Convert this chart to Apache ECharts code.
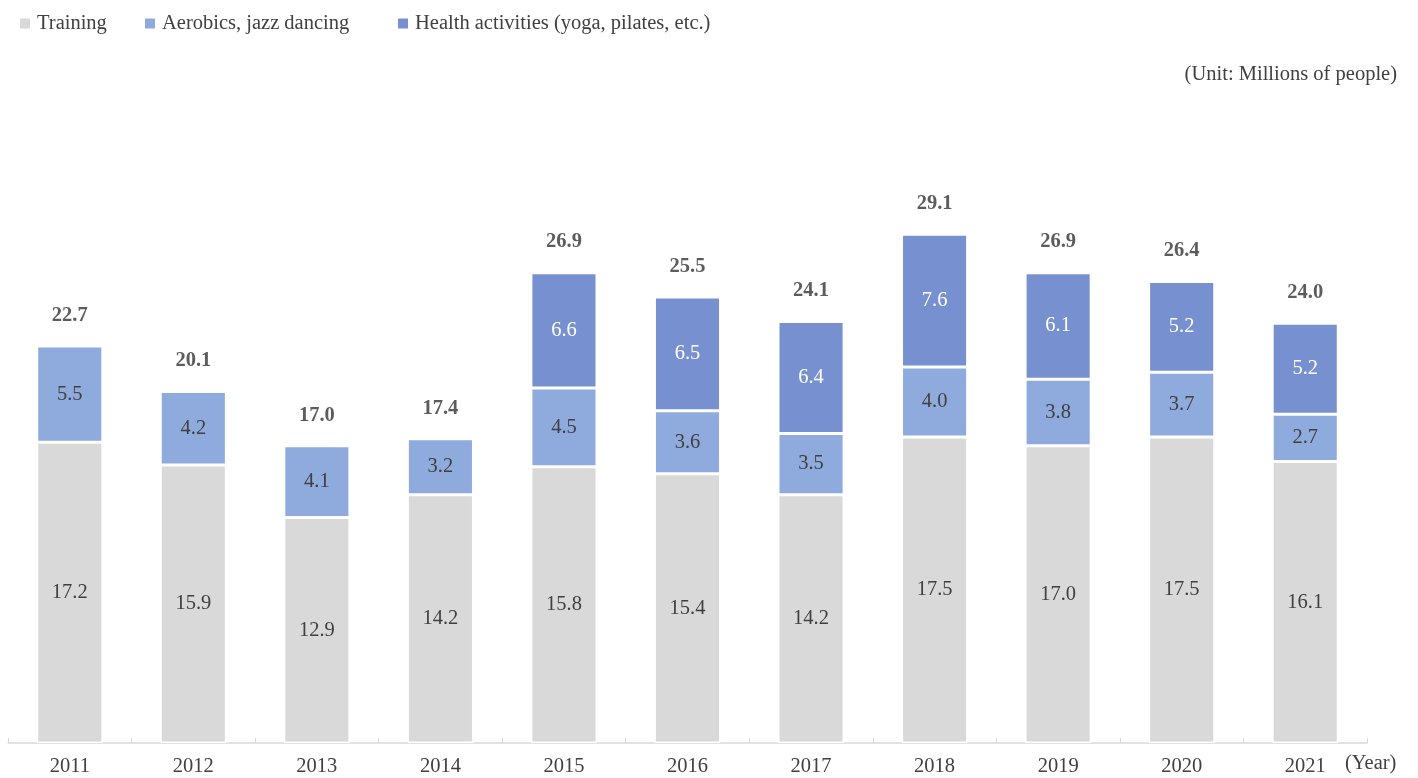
<!DOCTYPE html>
<html>
<head>
<meta charset="utf-8">
<script src="https://cdn.jsdelivr.net/npm/echarts@6/dist/echarts.min.js"></script>
<style>html,body{margin:0;padding:0;background:#fff;}#c{width:1418px;height:778px;}</style>
</head>
<body>
<div id="c"></div>
<script>
const years = ['2011','2012','2013','2014','2015','2016','2017','2018','2019','2020','2021'];
const training = [17.2,15.9,12.9,14.2,15.8,15.4,14.2,17.5,17.0,17.5,16.1];
const aerobics = [5.5,4.2,4.1,3.2,4.5,3.6,3.5,4.0,3.8,3.7,2.7];
const health = [null,null,null,null,6.6,6.5,6.4,7.6,6.1,5.2,5.2];
const totals = [22.7,20.1,17.0,17.4,26.9,25.5,24.1,29.1,26.9,26.4,24.0];
const seriesNames = ['Training', 'Aerobics, jazz dancing', 'Health activities (yoga, pilates, etc.)'];

const FONT = '"Liberation Serif","Times New Roman",serif';
const TXT = '#404040';
const FS = 20.5;
const chart = echarts.init(document.getElementById('c'));
const fmt = p => (p.value == null ? '' : Number(p.value).toFixed(1));
const segLabel = (color) => ({show: true, position: 'inside', color: color, fontFamily: FONT, fontSize: FS, formatter: fmt});
const itemStyle = (c) => ({color: c, borderColor: '#fff', borderWidth: 1.5});
const legendLefts = [15, 140, 393];

chart.setOption({
  animation: false,
  textStyle: {fontFamily: FONT},
  legend: seriesNames.map((n, i) => ({
    left: legendLefts[i], top: 8, itemWidth: 10, itemHeight: 10, icon: 'rect',
    data: [n],
    itemStyle: {borderWidth: 0},
    textStyle: {fontFamily: FONT, fontSize: FS, color: TXT, padding: [0, 0, 0, 2]}
  })),
  title: {
    text: '(Unit: Millions of people)', right: 16, top: 59,
    textStyle: {fontFamily: FONT, fontSize: FS, color: TXT, fontWeight: 'normal'}
  },
  graphic: [{
    type: 'text', left: 1345, top: 753,
    style: {text: '(Year)', fontFamily: FONT, fontSize: FS, fill: TXT}
  }],
  grid: {left: 8, right: 51, top: 131, bottom: 35},
  xAxis: {
    type: 'category', data: years,
    axisLine: {lineStyle: {color: '#d9d9d9', width: 1.5}},
    axisTick: {show: true, inside: true, length: 5, lineStyle: {color: '#d9d9d9'}},
    axisLabel: {color: TXT, fontFamily: FONT, fontSize: FS, margin: 13}
  },
  yAxis: {type: 'value', min: 0, max: 35, show: false, splitLine: {show: false}},
  series: [
    {name: seriesNames[0], type: 'bar', stack: 's', barWidth: '53.5%', data: training,
     itemStyle: itemStyle('#d9d9d9'), label: segLabel(TXT)},
    {name: seriesNames[1], type: 'bar', stack: 's', data: aerobics,
     itemStyle: itemStyle('#8faadc'), label: segLabel(TXT)},
    {name: seriesNames[2], type: 'bar', stack: 's', data: health,
     itemStyle: itemStyle('#7791d0'), label: segLabel('#ffffff')},
    {name: 'Total', type: 'scatter', data: totals, symbolSize: 0, silent: true,
     label: {show: true, position: 'top', distance: 20, color: '#333', fontFamily: FONT, fontSize: FS, fontWeight: 'bold', formatter: fmt}}
  ]
});
</script>
</body>
</html>
